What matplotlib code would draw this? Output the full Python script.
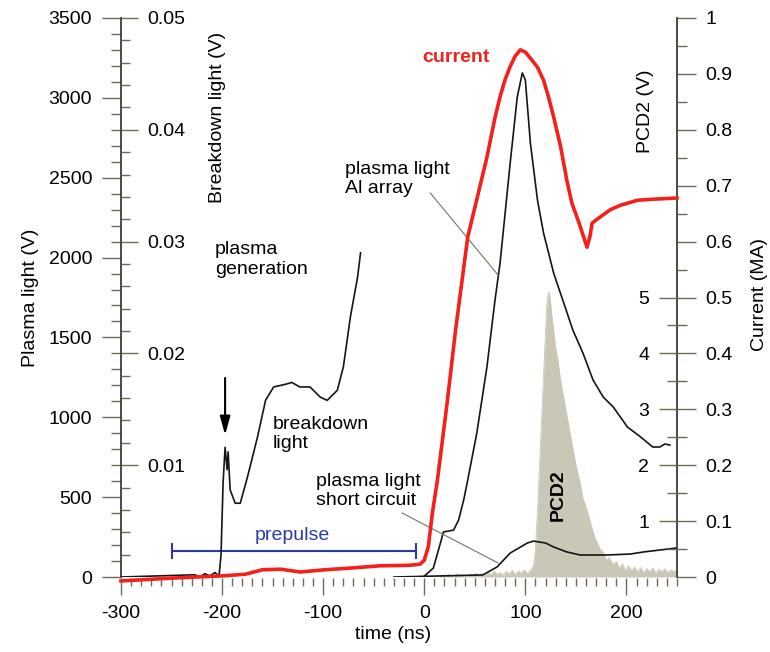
import numpy as np
import matplotlib
matplotlib.use('Agg')
import matplotlib.pyplot as plt

plt.rcParams['font.family'] = ['Liberation Sans', 'DejaVu Sans']
plt.rcParams['font.size'] = 14
plt.rcParams['axes.unicode_minus'] = False

_SPINE = '#3e3b33'
_TICK = '#6f6958'
_RED = '#f3201b'
_BLUE = '#2c3aa6'
_GRAY = '#cbc7b7'
_LEADER = '#7a7466'

# current (MA), right inner axis
current_t = [-300, -250, -200, -177, -160, -142, -123, -98, -73, -44, -14, -4, 0, 4, 8, 13,
             23, 31, 43, 53, 62, 70, 75, 80, 85, 90, 95, 100, 105, 112, 118, 123, 128, 135,
             141, 146, 152, 157, 161, 164, 166, 174, 184, 194, 211, 228, 250]
current_ma = [-0.07, -0.02, 0.02, 0.05, 0.13, 0.14, 0.09, 0.13, 0.16, 0.20, 0.21, 0.23, 0.30,
              0.54, 1.14, 1.73, 3.17, 4.42, 6.08, 6.83, 7.51, 8.22, 8.59, 8.90, 9.13, 9.32,
              9.43, 9.39, 9.28, 9.12, 8.89, 8.58, 8.23, 7.69, 7.10, 6.69, 6.39, 6.12, 5.90,
              6.10, 6.33, 6.44, 6.57, 6.65, 6.74, 6.76, 6.78]

# plasma light, Al array (V)
al_t = [-20, -1, 9, 16, 19, 29, 34, 39, 43, 52, 62, 70, 75, 85, 92, 97, 100, 105, 112, 118,
        128, 137, 147, 157, 167, 177, 187, 201, 214, 226, 233, 238, 243]
al_v = [0, 0, 56, 213, 282, 294, 357, 482, 607, 902, 1315, 1734, 1966, 2592, 3005, 3156,
        3112, 2717, 2360, 2154, 1903, 1734, 1546, 1402, 1233, 1127, 1064, 939, 877, 814,
        814, 833, 826]

# plasma light, short circuit (V)
short_t = [-30, 58, 72, 85, 102, 108, 120, 128, 141, 154, 181, 204, 217, 233, 250]
short_v = [0, 13, 63, 150, 213, 225, 213, 188, 157, 138, 138, 144, 157, 169, 182]

# breakdown light (V)
bd_t = [-300, -227, -222, -217, -212, -207, -203, -201, -199, -197, -195, -194, -192, -187,
        -182, -175, -165, -157, -149, -139, -131, -123, -113, -103, -96, -86, -80, -73,
        -66, -63]
bd_v = [0, 0.0002, 0, 0.0003, 0.0001, 0.0004, 0.0001, 0.002, 0.0084, 0.0116, 0.0096,
        0.0112, 0.0078, 0.0066, 0.0066, 0.0089, 0.0125, 0.0158, 0.0170, 0.0172, 0.0174,
        0.0170, 0.0170, 0.0161, 0.0158, 0.0167, 0.0188, 0.0233, 0.0268, 0.0290]

# PCD2 (V)
pcd2_t = [15, 18, 21, 24, 27, 30, 33, 36, 39, 42, 45, 48, 51, 54, 57, 60, 63, 66, 69, 72,
          75, 78, 81, 84, 87, 90, 93, 96, 99, 102, 105, 108, 110, 112, 114, 116, 118, 120,
          121, 122, 123, 124, 125, 126, 128, 130, 132, 135, 138, 141, 144, 147, 150, 154,
          157, 161, 164, 167, 170, 174, 177, 180, 183, 187, 190, 193, 196, 199, 202, 205,
          208, 211, 214, 217, 220, 223, 226, 229, 232, 235, 238, 241, 244, 247, 250]
pcd2_v = [0.002, 0.004, 0.001, 0.005, 0.002, 0.003, 0.006, 0.002, 0.004, 0.001, 0.005,
          0.003, 0.007, 0.002, 0.006, 0.003, 0.009, 0.004, 0.011, 0.005, 0.008, 0.003,
          0.010, 0.006, 0.012, 0.004, 0.011, 0.007, 0.013, 0.006, 0.012, 0.02, 0.05, 0.12,
          0.20, 0.28, 0.36, 0.44, 0.48, 0.50, 0.51, 0.505, 0.49, 0.47, 0.44, 0.41, 0.39,
          0.35, 0.32, 0.29, 0.26, 0.23, 0.20, 0.17, 0.14, 0.12, 0.10, 0.08, 0.065, 0.05,
          0.045, 0.03, 0.035, 0.022, 0.028, 0.016, 0.024, 0.012, 0.02, 0.011, 0.018, 0.009,
          0.017, 0.008, 0.015, 0.01, 0.016, 0.007, 0.014, 0.009, 0.015, 0.008, 0.013, 0.01,
          0.012]

prepulse_start = -250
prepulse_end = -8


def main():
    fig = plt.figure(figsize=(7.7, 6.52), dpi=100)
    ax = fig.add_axes([0.1571, 0.1150, 0.7221, 0.8574])
    ax_p = ax.twinx()
    ax_b = ax.twinx()
    ax_c = ax.twinx()

    ax_p.set_zorder(1)
    ax.set_zorder(2)
    ax_b.set_zorder(3)
    ax_c.set_zorder(4)
    for a in (ax, ax_p, ax_b, ax_c):
        a.patch.set_visible(False)
        for s in a.spines.values():
            s.set_visible(False)

    ax.spines['left'].set_visible(True)
    ax.spines['left'].set_color(_SPINE)
    ax.spines['left'].set_linewidth(1.3)
    ax_p.spines['right'].set_visible(True)
    ax_p.spines['right'].set_color(_SPINE)
    ax_p.spines['right'].set_linewidth(1.3)
    ax.spines['bottom'].set_position(('outward', 1))
    ax_b.spines['right'].set_position(('axes', 0))
    ax_c.spines['left'].set_position(('axes', 1))

    # data
    ax_p.fill_between(pcd2_t, 0, pcd2_v, color=_GRAY, lw=0)
    ax_p.plot(pcd2_t, pcd2_v, color=_GRAY, lw=0.6)
    ax.plot(al_t, al_v, color='#151515', lw=1.2)
    ax.plot(short_t, short_v, color='#151515', lw=1.2)
    ax_b.plot(bd_t, bd_v, color='#151515', lw=1.2)
    ax_c.plot(current_t, current_ma, color=_RED, lw=2.6, clip_on=False,
              solid_joinstyle='round')

    ax.set_xlim(-300, 250)
    ax.set_ylim(0, 3500)
    ax_b.set_ylim(0, 0.05)
    ax_p.set_ylim(0, 1)
    ax_c.set_ylim(0, 10)

    # x axis
    ax.set_xticks(np.arange(-300, 201, 100))
    ax.set_xticks(np.arange(-300, 251, 10), minor=True)
    ax.tick_params(axis='x', which='major', length=12.5, width=1, color=_TICK, pad=7)
    ax.tick_params(axis='x', which='minor', length=6, width=1, color=_TICK)
    ax.set_xlabel('time (ns)')
    ax.xaxis.set_label_coords(0.49, -0.088)

    # plasma light
    ax.set_yticks(np.arange(0, 3501, 500))
    ax.set_yticks([v for v in range(100, 3500, 100) if v % 500], minor=True)
    ax.tick_params(axis='y', which='major', length=13.7, width=1, color=_TICK, pad=7)
    ax.tick_params(axis='y', which='minor', length=7, width=1, color=_TICK)
    ax.set_ylabel('Plasma light (V)')
    ax.yaxis.set_label_coords(-0.148, 0.499)

    # breakdown light
    ax_b.set_yticks([0.01, 0.02, 0.03, 0.04, 0.05])
    ax_b.set_yticklabels(['0.01', '0.02', '0.03', '0.04', '0.05'])
    ax_b.set_yticks([k * 0.002 for k in range(1, 25) if k % 5], minor=True)
    ax_b.tick_params(axis='y', which='major', length=12.2, width=1, color=_TICK, pad=7)
    ax_b.tick_params(axis='y', which='minor', length=6.5, width=1, color=_TICK)
    ax_b.set_ylabel('Breakdown light (V)')
    ax_b.yaxis.set_label_coords(0.158, 0.823)

    # PCD2
    pcd2_ticks = [round(0.1 * k, 1) for k in range(11)]
    ax_p.set_yticks(pcd2_ticks)
    ax_p.set_yticklabels(['%g' % v for v in pcd2_ticks])
    ax_p.set_yticks([0.05 + 0.1 * k for k in range(10)], minor=True)
    ax_p.tick_params(axis='y', which='major', length=13.7, width=1, color=_TICK, pad=6.5)
    ax_p.tick_params(axis='y', which='minor', length=7, width=1, color=_TICK)
    ax_p.set_ylabel('PCD2 (V)')
    ax_p.yaxis.set_label_coords(0.928, 0.834)

    # current
    ax_c.yaxis.tick_left()
    ax_c.set_yticks([1, 2, 3, 4, 5])
    ax_c.set_yticks([0.5, 1.5, 2.5, 3.5, 4.5], minor=True)
    ax_c.tick_params(axis='y', which='major', length=13, width=1, color=_TICK, pad=7)
    ax_c.tick_params(axis='y', which='minor', length=7, width=1, color=_TICK)
    ax_c.set_ylabel('Current (MA)')
    ax_c.yaxis.set_label_coords(1.133, 0.506)

    # annotations
    ax.text(31, 3250, 'current', color=_RED, fontweight='bold', ha='center', va='center')
    ax.text(-78, 2492, 'plasma light\nAl array', ha='left', va='center')
    ax.plot([6, 73], [2404, 1891], color=_LEADER, lw=0.8)
    ax.text(-207, 1988, 'plasma\ngeneration', ha='left', va='center')
    ax.annotate('', xy=(-197, 889), xytext=(-197, 1246),
                arrowprops=dict(arrowstyle='-|>,head_length=0.8,head_width=0.22',
                                color='k', lw=1.5, shrinkA=0, shrinkB=0))
    ax.text(-150, 895, 'breakdown\nlight', ha='left', va='center')
    ax.text(-107, 538, 'plasma light\nshort circuit', ha='left', va='center')
    ax.plot([-22, 73], [401, 88], color=_LEADER, lw=0.8)
    ax.text(-131, 263, 'prepulse', color=_BLUE, ha='center', va='center')
    ax.hlines(163, prepulse_start, prepulse_end, color=_BLUE, lw=1.5)
    ax.vlines([prepulse_start, prepulse_end], 110, 216, color=_BLUE, lw=1.5)
    ax.text(133, 513, 'PCD2', rotation=90, fontweight='bold', ha='center', va='center')

    fig.savefig('out.png', dpi=100)


if __name__ == '__main__':
    main()
